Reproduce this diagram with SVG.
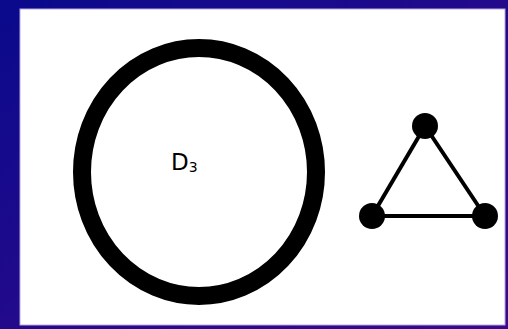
<svg xmlns="http://www.w3.org/2000/svg" width="508" height="329" viewBox="0 0 508 329">
  <defs>
    <linearGradient id="bg" x1="0" y1="0" x2="1" y2="1">
      <stop offset="0" stop-color="#0a0a8c"/>
      <stop offset="1" stop-color="#3a0a8a"/>
    </linearGradient>
    <style>
      .edge { stroke: #000; stroke-width: 4; }
      .vertex { fill: #000; }
      .label { font-family: "DejaVu Sans", "Liberation Sans", sans-serif; fill: #000; }
    </style>
  </defs>
  <rect x="0" y="0" width="508" height="329" fill="url(#bg)"/>
  <rect x="20" y="9" width="485" height="316" fill="#ffffff" stroke="#b8a8e0" stroke-width="1"/>
  <g id="disk">
    <ellipse cx="199" cy="172" rx="117" ry="124" fill="none" stroke="#000" stroke-width="18"/>
    <text class="label" x="171" y="170" font-size="23">D<tspan font-size="14" dy="2">3</tspan></text>
  </g>
  <g id="connectors">
    <line class="edge" x1="425" y1="126" x2="372" y2="216"/>
    <line class="edge" x1="425" y1="126" x2="485" y2="216"/>
    <line class="edge" x1="372" y1="216" x2="485" y2="216"/>
  </g>
  <g id="v1"><circle class="vertex" cx="425" cy="126" r="13"/></g>
  <g id="v2"><circle class="vertex" cx="372" cy="216" r="13"/></g>
  <g id="v3"><circle class="vertex" cx="485" cy="216" r="13"/></g>
</svg>
